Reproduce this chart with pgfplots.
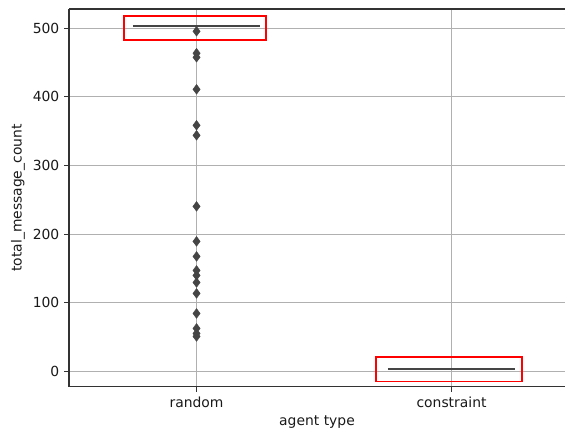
\documentclass[border=0pt]{standalone}
\usepackage{fontspec}
\setmainfont{DejaVu Sans}
\usepackage{pgfplots}
\pgfplotsset{compat=1.18}
\definecolor{gridc}{HTML}{B0B0B0}
\definecolor{boxc}{HTML}{454545}
\definecolor{spinec}{HTML}{333333}
\begin{document}
\begin{tikzpicture}
\begin{axis}[
  scale only axis, width=357pt, height=272pt,
  xmin=-0.5, xmax=1.445, ymin=-22.5, ymax=528,
  axis y line*=left,
  xtick={0,1}, xticklabels={random,constraint},
  xtick pos=left,
  ytick={0,100,200,300,400,500},
  grid=major,
  major grid style={color=gridc, line width=0.8pt},
  tick align=outside, major tick length=3.5pt,
  tick style={color=spinec, line width=0.8pt},
  axis line style={color=spinec, line width=0.8pt},
  ticklabel style={font=\fontsize{10}{12}\selectfont, color=black!90},
  label style={font=\fontsize{10}{12}\selectfont, color=black!90},
  /pgf/number format/assume math mode=true,
  xlabel={agent type}, ylabel={total\_message\_count},
  xlabel style={at={(axis description cs:0.5,0)}, anchor=base, yshift=-27.8pt},
  ylabel style={at={(axis description cs:-0.1028,0.5)}, anchor=center},
]
\addplot[boxc, line width=1.5pt] coordinates {(-0.25,503) (0.25,503)};
\addplot[boxc, line width=1.5pt] coordinates {(0.75,3) (1.25,3)};
\addplot[only marks, mark=diamond*, mark size=3.5pt, mark options={fill=boxc, draw=boxc, line width=0.3pt}, boxc]
  coordinates {(0,495.6) (0,463.6) (0,457.7) (0,411) (0,358.6) (0,344) (0,240.5) (0,189.5) (0,167.6) (0,147.2) (0,140) (0,129.7) (0,113.7) (0,84.5) (0,62.7) (0,55.4) (0,51)};
\draw[red, line width=1.4pt] (axis cs:-0.286,482.5) rectangle (axis cs:0.271,517.5);
\draw[red, line width=1.4pt] (axis cs:0.702,-14.6) rectangle (axis cs:1.275,20.4);
\end{axis}
\pgfresetboundingbox
\path[use as bounding box] ([xshift=-49.7pt,yshift=-30.2pt]current axis.south west) rectangle ([yshift=6.5pt]current axis.north east);
\end{tikzpicture}
\end{document}
